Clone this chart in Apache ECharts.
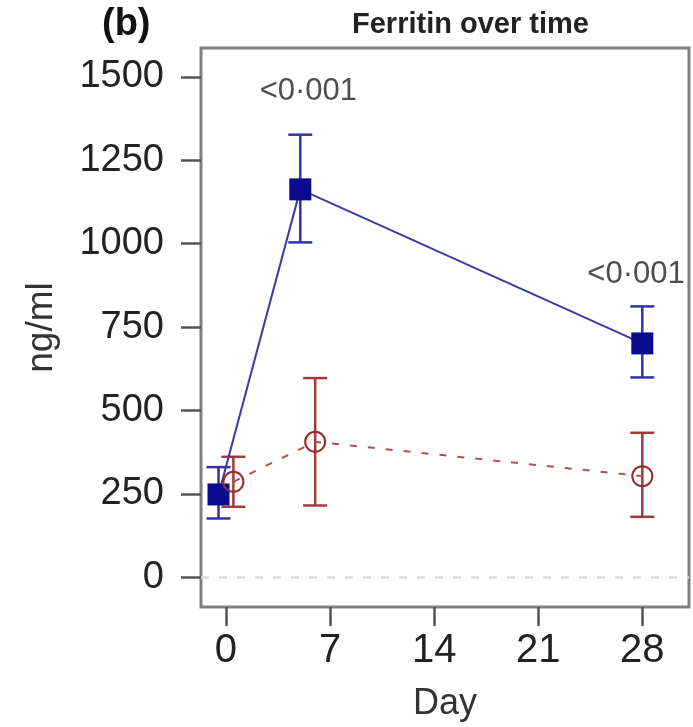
<!DOCTYPE html>
<html><head><meta charset="utf-8">
<script src="https://cdn.jsdelivr.net/npm/echarts@6/dist/echarts.min.js"></script>
<style>html,body{margin:0;padding:0;background:#fff}#c{width:693px;height:727px}</style>
</head><body><div id="c"></div>
<script>
const dayTicks = [0, 7, 14, 21, 28];
const valueTicks = [0, 250, 500, 750, 1000, 1250, 1500];
const blueDays = [-0.5, 5, 28];
const blueMean = [248, 1163, 701];
const blueLow = [176, 1004, 599];
const blueHigh = [330, 1327, 812];
const redDays = [0.5, 6, 28];
const redMean = [286, 406, 303];
const redLow = [211, 215, 181];
const redHigh = [361, 597, 433];
const pLabels = ['<0·001', '<0·001'];
const pDays = [5.54, 27.58];
const pValues = [1457, 907];

const FONT = "'Liberation Sans', Arial, sans-serif";
const BLUE = '#0a0a8c', BLUE_LINE = '#3a3aa2', BLUE_ERR = '#3232a4';
const RED = '#992a2a', RED_LINE = '#b05050', RED_ERR = '#a23a3a';

function errSeries(name, days, lo, hi, color) {
  return {
    name, type: 'custom', z: 3,
    data: days.map((d, i) => [d, lo[i], hi[i]]),
    renderItem(params, api) {
      const a = api.coord([api.value(0), api.value(1)]);
      const b = api.coord([api.value(0), api.value(2)]);
      const hw = 12;
      const st = { stroke: color, lineWidth: 2.5 };
      return { type: 'group', children: [
        { type: 'line', shape: { x1: a[0], y1: a[1], x2: b[0], y2: b[1] }, style: st },
        { type: 'line', shape: { x1: a[0] - hw, y1: a[1], x2: a[0] + hw, y2: a[1] }, style: st },
        { type: 'line', shape: { x1: b[0] - hw, y1: b[1], x2: b[0] + hw, y2: b[1] }, style: st }
      ]};
    }
  };
}

const chart = echarts.init(document.getElementById('c'));
chart.setOption({
  animation: false,
  backgroundColor: '#fff',
  grid: { left: 201, top: 48, right: 4, bottom: 117, show: true, borderColor: '#7f7f7f', borderWidth: 3, backgroundColor: 'transparent' },
  xAxis: {
    type: 'value', min: -1.678, max: 31.14,
    name: 'Day', nameLocation: 'middle', nameGap: 79,
    nameTextStyle: { fontFamily: FONT, fontSize: 36, color: '#333' },
    axisLine: { show: false, onZero: false },
    splitLine: { show: false },
    axisTick: { show: true, inside: false, length: 19, customValues: dayTicks, lineStyle: { color: '#555', width: 2.5 } },
    axisLabel: { customValues: dayTicks, margin: 24, fontFamily: FONT, fontSize: 40, color: '#222', formatter: v => String(v) }
  },
  yAxis: {
    type: 'value', min: -89.5, max: 1587,
    name: 'ng/ml', nameLocation: 'middle', nameGap: 141,
    nameTextStyle: { fontFamily: FONT, fontSize: 37, color: '#333' },
    axisLine: { show: false, onZero: false },
    splitLine: { show: false },
    axisTick: { show: true, inside: false, length: 20, customValues: valueTicks, lineStyle: { color: '#555', width: 2.5 } },
    axisLabel: { customValues: valueTicks, margin: 37, fontFamily: FONT, fontSize: 38, color: '#222', formatter: v => String(v) }
  },
  graphic: [
    { type: 'text', left: 352, top: 10, style: { text: 'Ferritin over time', font: 'bold 29px ' + FONT, fill: '#222' } },
    { type: 'text', left: 102, top: 6, style: { text: '(b)', font: 'bold 38px ' + FONT, fill: '#111' } }
  ],
  series: [
    {
      name: 'zero', type: 'line', data: [], silent: true,
      markLine: { symbol: 'none', silent: true, label: { show: false },
        lineStyle: { color: '#dcdcdc', width: 2.5, type: [8, 10] }, data: [{ yAxis: 0 }] }
    },
    {
      name: 'Blue', type: 'line', z: 4,
      data: blueDays.map((d, i) => [d, blueMean[i]]),
      lineStyle: { color: BLUE_LINE, width: 2 },
      symbol: 'rect', symbolSize: 22,
      itemStyle: { color: BLUE }
    },
    errSeries('Blue error', blueDays, blueLow, blueHigh, BLUE_ERR),
    {
      name: 'Red', type: 'line', z: 5,
      data: redDays.map((d, i) => [d, redMean[i]]),
      lineStyle: { color: RED_LINE, width: 2, type: [7, 11] },
      symbol: 'circle', symbolSize: 20,
      itemStyle: { color: 'rgba(0,0,0,0)', borderColor: RED, borderWidth: 2 }
    },
    errSeries('Red error', redDays, redLow, redHigh, RED_ERR),
    {
      name: 'p', type: 'scatter', symbolSize: 0, silent: true,
      data: pDays.map((d, i) => [d, pValues[i], pLabels[i]]),
      label: { show: true, position: 'inside', formatter: p => p.data[2], fontFamily: FONT, fontSize: 31, color: '#222' }
    }
  ]
});
</script>
</body></html>
